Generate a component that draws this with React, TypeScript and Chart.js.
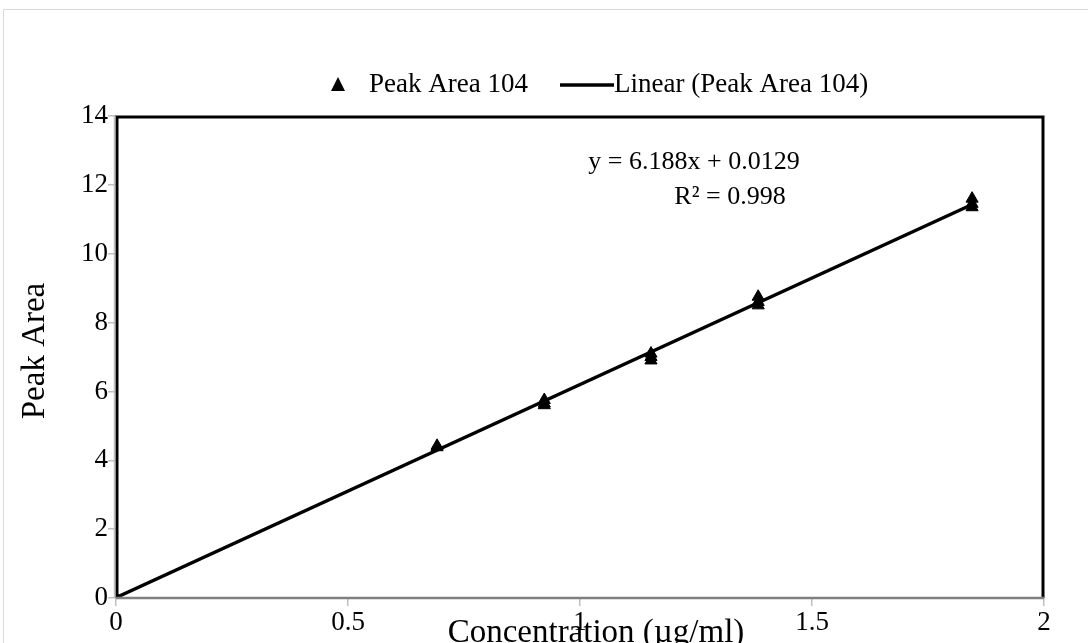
import React, { useEffect, useRef } from "react";
import { Chart, registerables } from "chart.js";

Chart.register(...registerables);

const concentrations = [0, 0.692, 0.692, 0.923, 0.923, 0.923, 1.153, 1.153, 1.153, 1.384, 1.384, 1.384, 1.845, 1.845, 1.845];
const peakAreas = [0, 4.38, 4.42, 5.6, 5.65, 5.75, 6.9, 7.0, 7.1, 8.5, 8.6, 8.75, 11.35, 11.45, 11.6];
const trendX = [0, 1.845];
const trendY = [0.0129, 11.43];
const xTicks = [0, 0.5, 1, 1.5, 2];
const yTicks = [0, 2, 4, 6, 8, 10, 12, 14];
const seriesName = "Peak Area 104";
const trendName = "Linear (Peak Area 104)";
const equationText = "y = 6.188x + 0.0129";
const r2Text = "R² = 0.998";
const xTitle = "Concentration (µg/ml)";
const yTitle = "Peak Area";

const W = 1088;
const H = 643;
const FONT = "'Liberation Serif', 'Times New Roman', serif";

export default function App() {
  const ref = useRef<HTMLCanvasElement | null>(null);

  useEffect(() => {
    if (!ref.current) return;
    const decor = {
      id: "decor",
      beforeDraw(chart: any) {
        const ctx = chart.ctx;
        ctx.save();
        ctx.fillStyle = "#ffffff";
        ctx.fillRect(0, 0, W, H);
        ctx.strokeStyle = "#d9d9d9";
        ctx.lineWidth = 1;
        ctx.strokeRect(3.5, 9.5, W + 50, H + 50);
        ctx.restore();
      },
      afterDraw(chart: any) {
        const ctx = chart.ctx;
        const a = chart.chartArea;
        ctx.save();
        // plot border
        ctx.strokeStyle = "#000000";
        ctx.lineWidth = 3;
        ctx.beginPath();
        ctx.moveTo(a.left + 1, a.bottom);
        ctx.lineTo(a.left + 1, a.top + 1);
        ctx.lineTo(a.right - 1, a.top + 1);
        ctx.lineTo(a.right - 1, a.bottom);
        ctx.stroke();
        ctx.strokeStyle = "#bfbfbf";
        ctx.lineWidth = 1.5;
        ctx.beginPath();
        ctx.moveTo(a.left - 1.5, a.top);
        ctx.lineTo(a.left - 1.5, a.bottom);
        ctx.stroke();
        ctx.strokeStyle = "#808080";
        ctx.lineWidth = 2.5;
        ctx.beginPath();
        ctx.moveTo(a.left, a.bottom);
        ctx.lineTo(a.right, a.bottom);
        ctx.stroke();

        // legend
        ctx.fillStyle = "#000";
        ctx.font = `27px ${FONT}`;
        ctx.textBaseline = "middle";
        const ly = 85;
        ctx.beginPath();
        ctx.moveTo(338, ly - 8);
        ctx.lineTo(345, ly + 6);
        ctx.lineTo(331, ly + 6);
        ctx.closePath();
        ctx.fill();
        ctx.textAlign = "left";
        ctx.fillText(seriesName, 369, ly);
        ctx.lineWidth = 3.5;
        ctx.strokeStyle = "#000";
        ctx.beginPath();
        ctx.moveTo(560, ly);
        ctx.lineTo(614, ly);
        ctx.stroke();
        ctx.fillText(trendName, 614, ly);

        // equation
        ctx.font = `26px ${FONT}`;
        ctx.textAlign = "center";
        ctx.fillText(equationText, 694, 162);
        ctx.fillText(r2Text, 730, 197);

        // axis titles
        ctx.font = `33px ${FONT}`;
        ctx.fillText(xTitle, (a.left + a.right) / 2 + 16, 633);
        ctx.translate(35, (a.top + a.bottom) / 2 - 6);
        ctx.rotate(-Math.PI / 2);
        ctx.fillText(yTitle, 0, 0);
        ctx.restore();
      },
    };

    const chart = new Chart(ref.current, {
      type: "scatter",
      data: {
        datasets: [
          {
            label: seriesName,
            data: concentrations.map((x, i) => ({ x, y: peakAreas[i] })),
            pointStyle: "triangle",
            pointRadius: 7,
            backgroundColor: "#000",
            borderColor: "#000",
            borderWidth: 1,
            order: 1,
          },
          {
            label: trendName,
            data: trendX.map((x, i) => ({ x, y: trendY[i] })),
            showLine: true,
            borderColor: "#000",
            borderWidth: 3.5,
            pointRadius: 0,
            order: 2,
          },
        ],
      },
      options: {
        responsive: false,
        animation: false,
        events: [],
        layout: { padding: { top: 116, right: W - 1044, left: 0, bottom: 0 } },
        plugins: { legend: { display: false }, tooltip: { enabled: false } },
        scales: {
          x: {
            type: "linear",
            min: 0,
            max: 2,
            afterBuildTicks: (s: any) => {
              s.ticks = xTicks.map((v) => ({ value: v }));
            },
            afterFit: (s: any) => {
              s.height = H - 598;
            },
            grid: { drawOnChartArea: false, drawTicks: true, tickLength: 8, color: "#bfbfbf", lineWidth: 1.5 },
            border: { display: false },
            ticks: {
              color: "#000",
              font: { family: FONT, size: 27 },
              padding: 1,
              maxRotation: 0,
              callback: (v: any) => String(v),
            },
          },
          y: {
            type: "linear",
            min: 0,
            max: 14,
            afterBuildTicks: (s: any) => {
              s.ticks = yTicks.map((v) => ({ value: v }));
            },
            afterFit: (s: any) => {
              s.width = 116;
            },
            grid: { drawOnChartArea: false, drawTicks: true, tickLength: 8, color: "#bfbfbf", lineWidth: 1.5 },
            border: { display: false },
            ticks: { color: "#000", font: { family: FONT, size: 27 }, padding: 0, callback: (v: any) => String(v) },
          },
        },
      },
      plugins: [decor],
    });
    return () => chart.destroy();
  }, []);

  return (
    <div style={{ position: "fixed", left: 0, top: 0, width: W, height: H, background: "#fff" }}>
      <canvas ref={ref} width={W} height={H} style={{ display: "block" }} />
    </div>
  );
}
